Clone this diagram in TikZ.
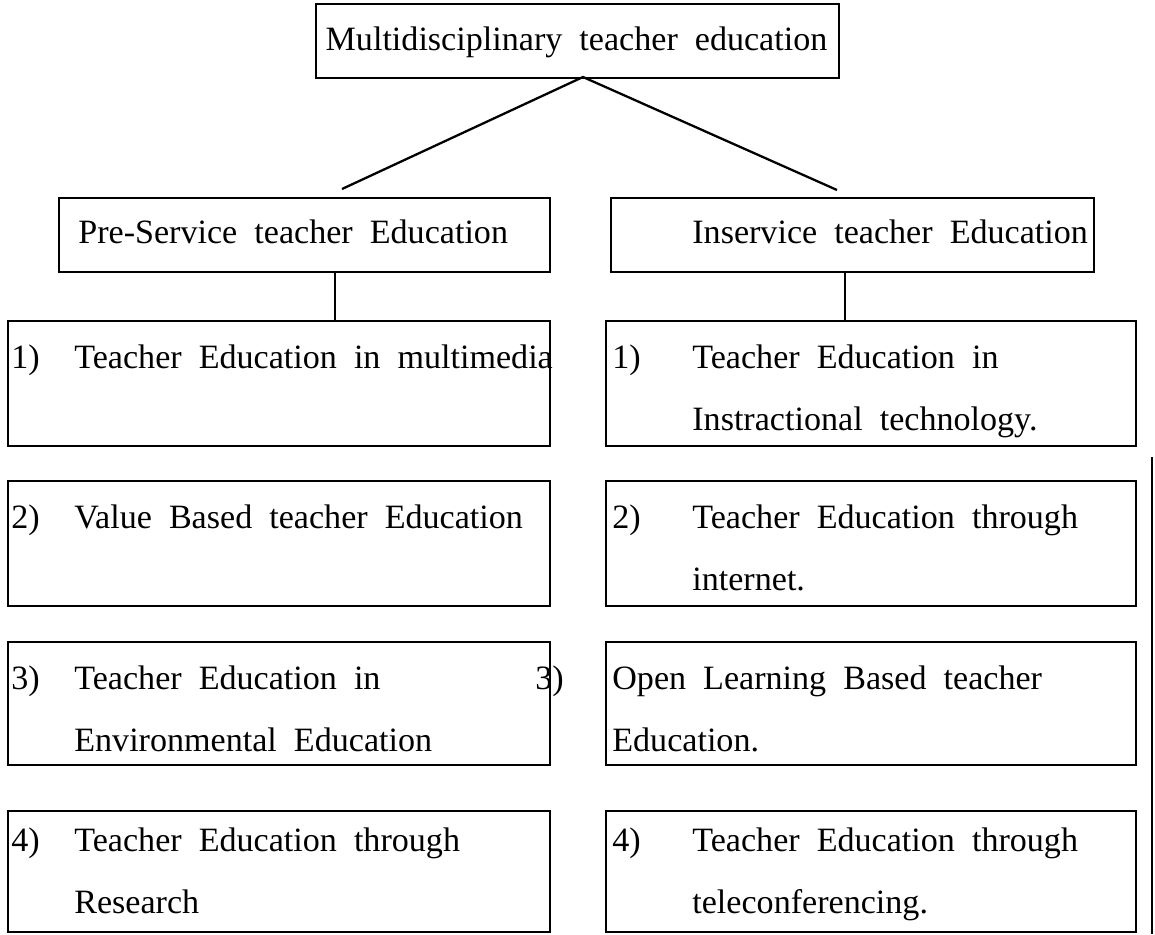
\documentclass[tikz,border=0pt]{standalone}
\usepackage{fontspec}
\setmainfont{Liberation Serif}[WordSpace=2]
\usetikzlibrary{positioning,calc}

\begin{document}
\begin{tikzpicture}[
    x=0.02cm, y=-0.02cm,
    box/.style={draw, line width=1.2pt, rectangle, inner sep=0pt, anchor=north west},
    item/.style={box, minimum width=10.84cm, minimum height=2.5cm},
    ritem/.style={box, minimum width=10.6cm, minimum height=2.5cm},
    txt/.style={anchor=base west, inner sep=0pt, align=left,
        font=\fontsize{19.4}{35.3}\selectfont},
    two/.style={txt, yshift=-1.245cm},
    link/.style={line width=1.3pt},
]
\useasboundingbox (0,0) rectangle (1155,934);

% Top
\node[box, minimum width=10.46cm, minimum height=1.48cm] (top) at (315,3) {};
\node[txt, anchor=base] (toptext) at (576.5,50) {Multidisciplinary teacher education};

% Two branches
\node[box, minimum width=9.82cm, minimum height=1.48cm] (pre) at (58,197) {};
\node[txt] (pretext) at (78,243) {Pre-Service teacher Education};
\node[box, minimum width=9.66cm, minimum height=1.48cm] (inse) at (610,197) {};
\node[txt] (insetext) at (692,243) {Inservice teacher Education};

% Left column
\node[item] (l1) at (7,320) {};
\node[item] (l2) at (7,480) {};
\node[item, minimum height=2.46cm] (l3) at (7,641) {};
\node[item, minimum height=2.42cm] (l4) at (7,810) {};

\node[txt] (n1) at (11,368) {1)};
\node[txt] (t1) at (74,368) {Teacher Education in multimedia};
\node[txt] (n2) at (11,528) {2)};
\node[txt] (t2) at (74,528) {Value Based teacher Education};
\node[txt] (n3) at (11,689) {3)};
\node[two] (t3) at (74,689) {Teacher Education in\\Environmental Education};
\node[txt] (n4) at (11,851) {4)};
\node[two] (t4) at (74,851) {Teacher Education through\\Research};

% Right column
\node[ritem] (r1) at (605,320) {};
\node[ritem] (r2) at (605,480) {};
\node[ritem, minimum height=2.46cm] (r3) at (605,641) {};
\node[ritem, minimum height=2.42cm] (r4) at (605,810) {};

\node[txt] (m1) at (612,368) {1)};
\node[two] (s1) at (692,368) {Teacher Education in\\Instractional technology.};
\node[txt] (m2) at (612,528) {2)};
\node[two] (s2) at (692,528) {Teacher Education through\\internet.};
\node[txt] (m3) at (535,689) {3)};
\node[two] (s3) at (612,689) {Open Learning Based teacher\\Education.};
\node[txt] (m4) at (612,851) {4)};
\node[two] (s4) at (692,851) {Teacher Education through\\teleconferencing.};

% Links
\coordinate (apex) at (583,77);
\coordinate (lend) at (342,189);
\coordinate (rend) at (837,190);
\draw[link] (lend) -- (apex) -- (rend);

\coordinate (lstem) at (335,0);
\coordinate (rstem) at (845,0);
\draw[link] (pre.south -| lstem) -- (l1.north -| lstem);
\draw[link] (inse.south -| rstem) -- (r1.north -| rstem);

% Edge line
\coordinate (edgetop) at (1152,457);
\coordinate (edgebot) at (1152,934);
\draw[line width=0.8pt] (edgetop) -- (edgebot);

\end{tikzpicture}
\end{document}
